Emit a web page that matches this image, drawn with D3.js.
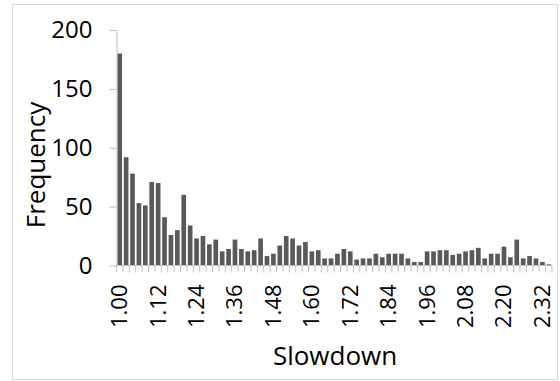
<!DOCTYPE html>
<html>
<head>
<meta charset="utf-8">
<script src="https://cdn.jsdelivr.net/npm/d3@7"></script>
<style>
  body { margin: 0; background: #fff; }
  svg { display: block; font-family: "Open Sans", sans-serif; }
</style>
</head>
<body>
<div id="chart"></div>
<script>
// histogram bins (slowdown), one bar per bin
const bins = [
  "1.00","1.02","1.04","1.06","1.08","1.10","1.12","1.14","1.16","1.18",
  "1.20","1.22","1.24","1.26","1.28","1.30","1.32","1.34","1.36","1.38",
  "1.40","1.42","1.44","1.46","1.48","1.50","1.52","1.54","1.56","1.58",
  "1.60","1.62","1.64","1.66","1.68","1.70","1.72","1.74","1.76","1.78",
  "1.80","1.82","1.84","1.86","1.88","1.90","1.92","1.94","1.96","1.98",
  "2.00","2.02","2.04","2.06","2.08","2.10","2.12","2.14","2.16","2.18",
  "2.20","2.22","2.24","2.26","2.28","2.30","2.32","2.34"
];

const frequency = [
  180, 92, 78, 53, 51, 71, 70, 41, 26, 30,
  60, 34, 23, 25, 18, 22, 12, 14, 22, 14,
  12, 13, 23, 8, 10, 17, 25, 23, 17, 20,
  12, 13, 6, 6, 10, 14, 12, 5, 6, 6,
  10, 7, 10, 10, 10, 6, 3, 3, 12, 12,
  13, 13, 9, 10, 12, 13, 15, 6, 10, 10,
  16, 7, 22, 6, 8, 6, 3, 1
];

// labels shown on the category axis
const xTickLabels = ["1.00","1.12","1.24","1.36","1.48","1.60","1.72","1.84","1.96","2.08","2.20","2.32"];
const yTicks = [0, 50, 100, 150, 200];

const width = 560;
const height = 381;
const plot = { left: 116.5, right: 552, top: 30, bottom: 265.5 };

const svg = d3.select("#chart")
    .append("svg")
    .attr("width", width)
    .attr("height", height);

// chart border
svg.append("rect")
    .attr("x", 12.5)
    .attr("y", 4.5)
    .attr("width", 545)
    .attr("height", 375)
    .attr("fill", "none")
    .attr("stroke", "#d9d9d9");

const x = d3.scaleBand()
    .domain(bins)
    .range([plot.left, plot.right])
    .paddingInner(0.27)
    .paddingOuter(0.135);

const y = d3.scaleLinear()
    .domain([0, 200])
    .range([plot.bottom, plot.top]);

// bars
svg.append("g")
    .selectAll("rect")
    .data(bins)
    .join("rect")
    .attr("x", d => x(d))
    .attr("y", (d, i) => y(frequency[i]))
    .attr("width", x.bandwidth())
    .attr("height", (d, i) => y(0) - y(frequency[i]))
    .attr("fill", "#595959");

// y axis
const yAxis = svg.append("g")
    .attr("transform", `translate(${plot.left},0)`)
    .call(d3.axisLeft(y).tickValues(yTicks).tickSize(7).tickSizeOuter(0).tickPadding(17));
yAxis.select(".domain").attr("stroke", "#bfbfbf");
yAxis.selectAll(".tick line").attr("stroke", "#bfbfbf");
yAxis.selectAll(".tick text")
    .attr("font-size", 24)
    .attr("fill", "#000")
    .attr("font-family", "'Open Sans', sans-serif");

// x axis: tick marks sit between categories
const edges = d3.range(bins.length + 1).map(i => plot.left + i * (plot.right - plot.left) / bins.length);
const xg = svg.append("g");
xg.append("line")
    .attr("x1", plot.left).attr("x2", plot.right)
    .attr("y1", plot.bottom).attr("y2", plot.bottom)
    .attr("stroke", "#bfbfbf");
xg.selectAll("line.tk")
    .data(edges)
    .join("line")
    .attr("class", "tk")
    .attr("x1", d => d).attr("x2", d => d)
    .attr("y1", plot.bottom).attr("y2", plot.bottom + 7)
    .attr("stroke", "#bfbfbf");

xg.selectAll("text.lbl")
    .data(xTickLabels)
    .join("text")
    .attr("class", "lbl")
    .attr("transform", d => `translate(${x(d) + x.bandwidth() / 2 + 7.5},${plot.bottom + 19}) rotate(-90)`)
    .attr("text-anchor", "end")
    .attr("font-size", 22)
    .attr("fill", "#000")
    .text(d => d);

// axis titles
svg.append("text")
    .attr("x", 335)
    .attr("y", 365)
    .attr("text-anchor", "middle")
    .attr("font-size", 26)
    .attr("fill", "#000")
    .text("Slowdown");

svg.append("text")
    .attr("transform", `translate(45,165) rotate(-90)`)
    .attr("text-anchor", "middle")
    .attr("font-size", 26)
    .attr("fill", "#000")
    .text("Frequency");
</script>
</body>
</html>
